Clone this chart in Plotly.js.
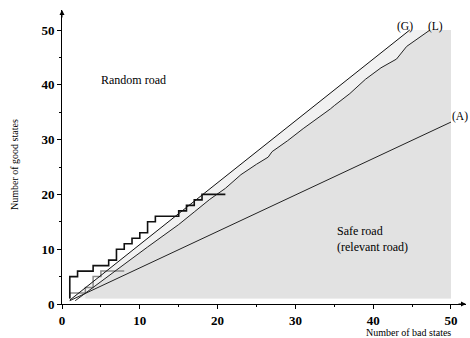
<!DOCTYPE html>
<html><head><meta charset="utf-8">
<script src="https://cdn.plot.ly/plotly-3.0.1.min.js"></script>
<style>html,body{margin:0;padding:0;background:#fff}#c{width:470px;height:338px}</style>
</head><body><div id="c"></div>
<script>
// (G) straight line
const gX = [1, 44.7];
const gY = [0.7, 50];
// (A) straight line
const aX = [1, 50];
const aY = [0.6, 33.2];
// (L) jagged curve
const lX = [1.7, 3, 5, 7, 9, 11, 13, 15, 17, 19, 21, 23, 25, 26.5, 27, 29, 31, 33, 34.5, 35, 37, 39, 41, 43, 44.3, 47.3];
const lY = [0.6, 2.0, 4.1, 6.2, 8.3, 10.4, 12.5, 14.5, 16.8, 19.1, 21.1, 23.6, 25.5, 26.8, 27.8, 29.8, 32.0, 34.0, 35.6, 36.2, 38.4, 41.0, 43.1, 44.7, 47.0, 50];
// black staircase
const sX = [1, 1, 2, 2, 4, 4, 6, 6, 7, 7, 8, 8, 9, 9, 10, 10, 11, 11, 12, 12, 15, 15, 16, 16, 17, 17, 18, 18, 21];
const sY = [1, 5, 5, 6, 6, 7, 7, 8, 8, 10, 10, 11, 11, 12, 12, 13, 13, 15, 15, 16, 16, 17, 17, 18, 18, 19, 19, 20, 20];
// grey staircase
const tX = [1, 1, 3, 3, 4, 4, 5, 5, 8];
const tY = [1, 2, 2, 3, 3, 5, 5, 6, 6];

const fillBase = 1, fillTop = 50, fillRight = 50;
// light fill under G
const gx1 = gX[0] + (fillBase - gY[0]) * (gX[1] - gX[0]) / (gY[1] - gY[0]);
const lightX = [gx1, gX[1], fillRight, fillRight, gx1];
const lightY = [fillBase, gY[1], fillTop, fillBase, fillBase];
// dark fill under L (from x=3)
const i0 = lX.indexOf(3);
const darkX = [lX[i0]].concat(lX.slice(i0), [fillRight, fillRight, lX[i0]]);
const darkY = [fillBase].concat(lY.slice(i0), [fillTop, fillBase, fillBase]);

const serif = 'Liberation Serif';
const traces = [
  {x: lightX, y: lightY, mode: 'none', fill: 'toself', fillcolor: '#f1f1f1', hoverinfo: 'skip'},
  {x: darkX, y: darkY, mode: 'none', fill: 'toself', fillcolor: '#e2e2e2', hoverinfo: 'skip'},
  {x: tX, y: tY, mode: 'lines', line: {color: '#8a8a8a', width: 1.5}},
  {x: gX, y: gY, mode: 'lines', line: {color: '#111', width: 1}},
  {x: aX, y: aY, mode: 'lines', line: {color: '#222', width: 1}},
  {x: lX, y: lY, mode: 'lines', line: {color: '#222', width: 1}},
  {x: sX, y: sY, mode: 'lines', line: {color: '#111', width: 1.6}}
];
const axisBase = {
  showgrid: false, zeroline: false, showline: true, linecolor: '#000', linewidth: 1,
  ticks: 'outside', ticklen: 4, tickwidth: 1, tickcolor: '#000', dtick: 10, tick0: 0,
  minor: {dtick: 5, ticks: 'outside', ticklen: 2, tickcolor: '#000', tickwidth: 1},
  tickfont: {family: serif, size: 13, color: '#000', weight: 'bold'}
};
const layout = {
  width: 470, height: 338, showlegend: false,
  font: {family: serif},
  paper_bgcolor: '#fff', plot_bgcolor: '#fff',
  margin: {l: 62, r: 4, t: 10, b: 34},
  xaxis: Object.assign({}, axisBase, {range: [0, 51.93]}),
  yaxis: Object.assign({}, axisBase, {range: [0, 53.65]}),
  annotations: [
    {x: 1, xref: 'paper', y: 0, yref: 'y', ax: -9, ay: 0, text: '', showarrow: true, arrowhead: 2, arrowsize: 1, arrowwidth: 1, arrowcolor: '#000'},
    {x: 0, xref: 'x', y: 1, yref: 'paper', ax: 0, ay: 9, text: '', showarrow: true, arrowhead: 2, arrowsize: 1, arrowwidth: 1, arrowcolor: '#000'},
    {text: 'Number of bad states', xref: 'paper', yref: 'paper', x: (408 - 62) / 404, y: -(332 - 304) / 294, xanchor: 'center', yanchor: 'middle', showarrow: false, font: {family: serif, size: 10, color: '#000'}},
    {text: 'Number of good states', xref: 'paper', yref: 'paper', x: -(62 - 14) / 404, y: (304 - 165) / 294, xanchor: 'center', yanchor: 'middle', textangle: -90, showarrow: false, font: {family: serif, size: 10, color: '#000'}},
    {text: 'Random road', x: 9.25, y: 40.9, xref: 'x', yref: 'y', xanchor: 'center', yanchor: 'middle', showarrow: false, font: {family: serif, size: 12, color: '#000'}},
    {text: 'Safe road<br>(relevant road)', x: 35.1, y: 11.9, xref: 'x', yref: 'y', showarrow: false, align: 'left', xanchor: 'left', yanchor: 'middle', font: {family: serif, size: 12, color: '#000'}},
    {text: '(G)', x: 44.1, y: 50.6, xref: 'x', yref: 'y', showarrow: false, font: {family: serif, size: 11.5, color: '#000'}},
    {text: '(L)', x: 48.0, y: 50.6, xref: 'x', yref: 'y', showarrow: false, font: {family: serif, size: 11.5, color: '#000'}},
    {text: '(A)', x: 51.1, y: 34.2, xref: 'x', yref: 'y', showarrow: false, font: {family: serif, size: 11.5, color: '#000'}}
  ]
};
Plotly.newPlot('c', traces, layout, {staticPlot: true});
</script></body></html>
